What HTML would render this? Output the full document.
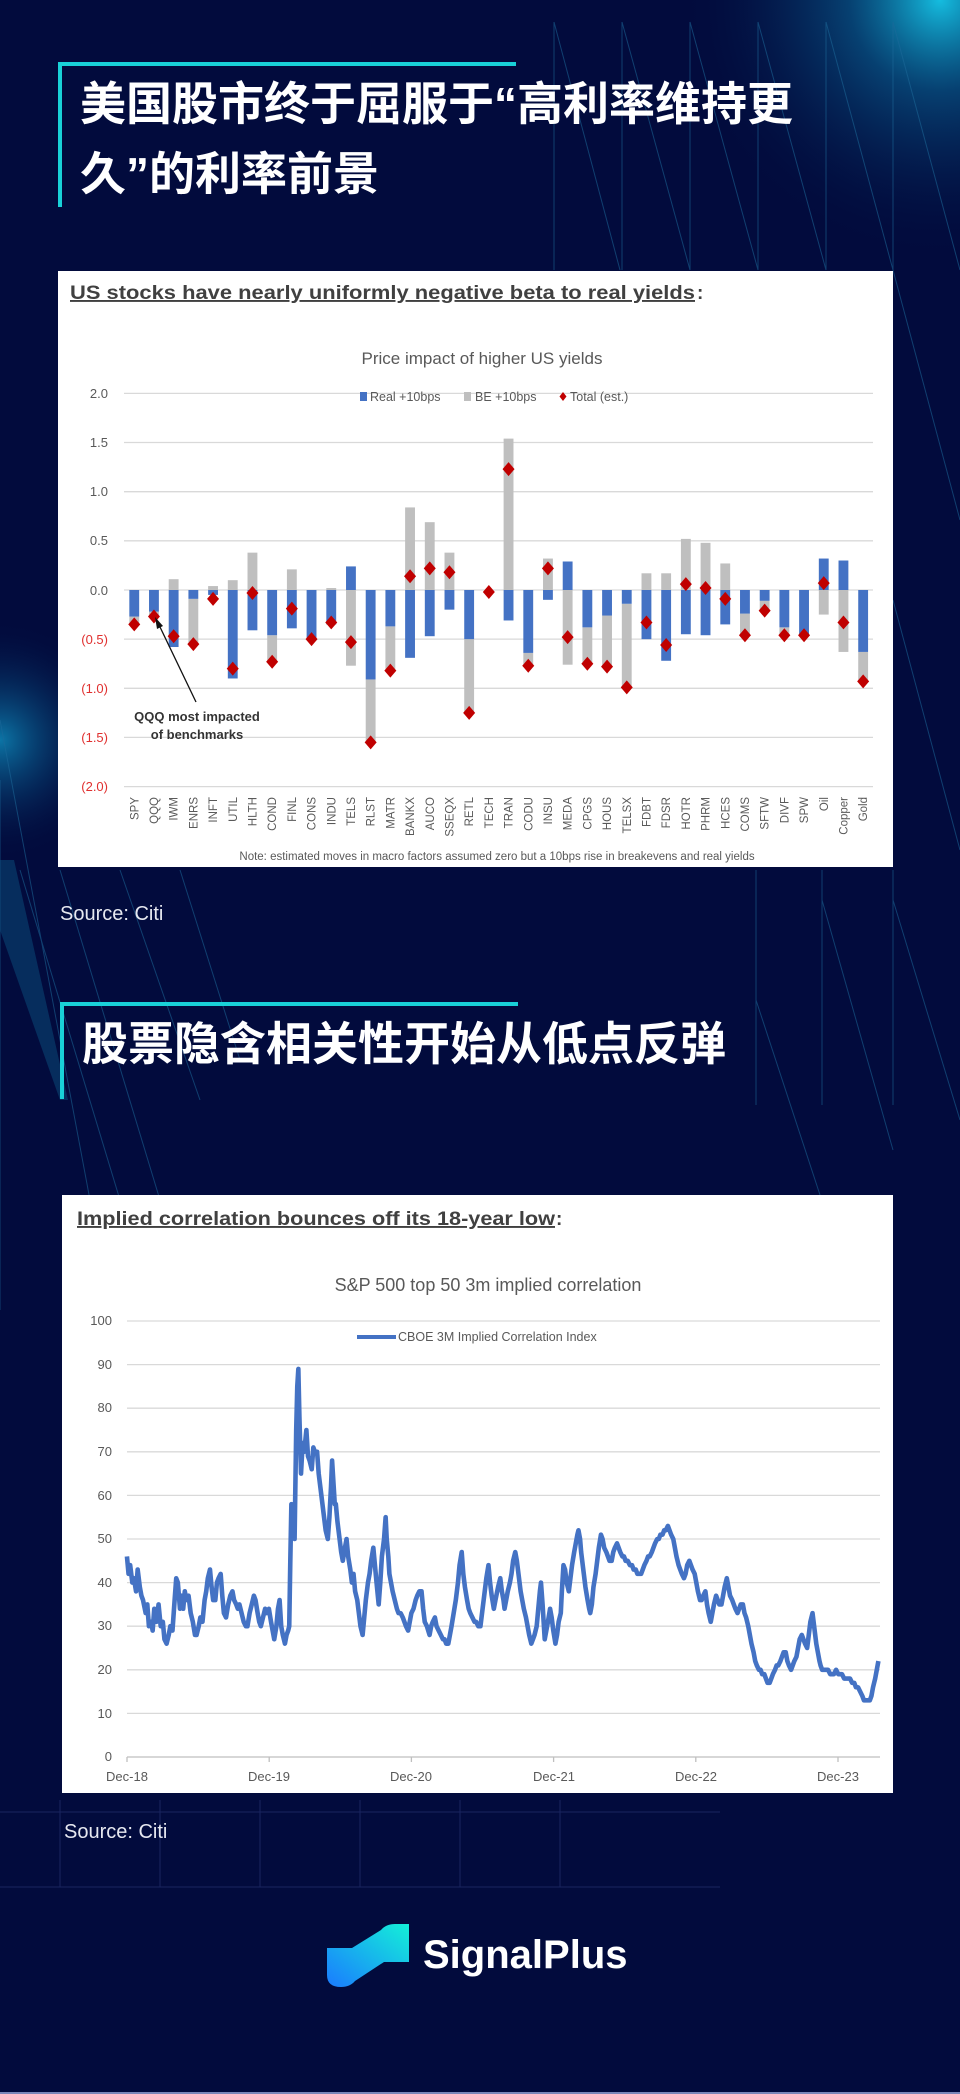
<!DOCTYPE html>
<html><head><meta charset="utf-8">
<style>
html,body{margin:0;padding:0;background:#020b3d;}
body{width:960px;height:2094px;overflow:hidden;position:relative;}
svg{position:absolute;left:0;top:0;}
</style></head>
<body>
<svg width="960" height="2094" viewBox="0 0 960 2094" xmlns="http://www.w3.org/2000/svg">
<defs>
<radialGradient id="glow" cx="940" cy="0" r="260" gradientUnits="userSpaceOnUse">
<stop offset="0" stop-color="#16c6e8" stop-opacity="0.95"/>
<stop offset="0.35" stop-color="#0a6c9c" stop-opacity="0.55"/>
<stop offset="1" stop-color="#020b3d" stop-opacity="0"/>
</radialGradient>
<radialGradient id="glow2" cx="0" cy="740" r="120" gradientUnits="userSpaceOnUse">
<stop offset="0" stop-color="#0e8fc0" stop-opacity="0.8"/>
<stop offset="1" stop-color="#020b3d" stop-opacity="0"/>
</radialGradient>
<linearGradient id="logoG" x1="0" y1="1" x2="1" y2="0">
<stop offset="0" stop-color="#1a7bff"/>
<stop offset="1" stop-color="#14f0d8"/>
</linearGradient>
<path id="dm" d="M0,-7 L6,0 0,7 -6,0Z" fill="#c00000"/>
</defs>
<rect width="960" height="2094" fill="#020b3d"/>
<rect width="960" height="2094" fill="url(#glow)"/>
<rect width="960" height="2094" fill="url(#glow2)"/>
<g stroke="#1d6a9a" stroke-width="1" opacity="0.55" fill="none">
<line x1="554" y1="22" x2="554" y2="270"/><line x1="622" y1="22" x2="622" y2="270"/><line x1="690" y1="22" x2="690" y2="270"/><line x1="758" y1="22" x2="758" y2="270"/><line x1="826" y1="22" x2="826" y2="270"/><line x1="893" y1="22" x2="893" y2="270"/>
<line x1="554" y1="22" x2="620" y2="270"/><line x1="622" y1="22" x2="690" y2="270"/><line x1="690" y1="22" x2="758" y2="270"/><line x1="758" y1="22" x2="826" y2="270"/><line x1="826" y1="22" x2="893" y2="270"/><line x1="893" y1="22" x2="960" y2="270"/>
<line x1="893" y1="270" x2="960" y2="520"/><line x1="893" y1="600" x2="960" y2="850"/>
<line x1="0" y1="720" x2="90" y2="1200"/><line x1="20" y1="870" x2="120" y2="1200"/><line x1="60" y1="870" x2="160" y2="1200"/><line x1="120" y1="870" x2="200" y2="1100"/><line x1="180" y1="870" x2="240" y2="1060"/>
<line x1="756" y1="870" x2="756" y2="1105"/><line x1="822" y1="870" x2="822" y2="1105"/><line x1="893" y1="870" x2="893" y2="1105"/>
<line x1="756" y1="1000" x2="820" y2="1195"/><line x1="822" y1="900" x2="893" y2="1150"/><line x1="893" y1="900" x2="960" y2="1120"/>
<line x1="0" y1="780" x2="0" y2="1310"/>
</g>
<polygon points="0,860 14,860 68,1100 60,1100 0,930" fill="#0a4f7e" opacity="0.5"/>
<g stroke="#1a2560" stroke-width="1">
<line x1="0" y1="1812" x2="720" y2="1812"/><line x1="0" y1="1887" x2="720" y2="1887"/>
<line x1="60" y1="1800" x2="60" y2="1887"/><line x1="160" y1="1800" x2="160" y2="1887"/><line x1="260" y1="1800" x2="260" y2="1887"/><line x1="360" y1="1800" x2="360" y2="1887"/><line x1="460" y1="1800" x2="460" y2="1887"/><line x1="560" y1="1800" x2="560" y2="1887"/>
</g>
<line x1="0" y1="2093" x2="960" y2="2093" stroke="#7a86b8" stroke-width="2"/>

<rect x="58" y="62" width="458" height="4" fill="#19d1d8"/>
<rect x="58" y="62" width="4" height="145" fill="#19d1d8"/>
<g font-family="'Liberation Sans','Noto Sans CJK SC',sans-serif" font-weight="bold" font-size="46" fill="#ffffff">
<text x="80" y="120">美国股市终于屈服于“高利率维持更</text>
<text x="80" y="190">久”的利率前景</text>
</g>

<rect x="58" y="271" width="835" height="596" fill="#ffffff"/>
<text x="70" y="299" font-family="'Liberation Sans Narrow','Liberation Sans',sans-serif" font-weight="bold" font-size="19" fill="#404040" text-decoration="underline" textLength="625" lengthAdjust="spacingAndGlyphs">US stocks have nearly uniformly negative beta to real yields</text>
<text x="697" y="299" font-family="'Liberation Sans',sans-serif" font-weight="bold" font-size="19" fill="#404040">:</text>
<text x="482" y="364" text-anchor="middle" font-family="'Liberation Sans Narrow','Liberation Sans',sans-serif" font-size="17" fill="#595959">Price impact of higher US yields</text>
<g stroke="#d9d9d9" stroke-width="1.3">
<line x1="124" y1="393.4" x2="873" y2="393.4"/><line x1="124" y1="442.5" x2="873" y2="442.5"/><line x1="124" y1="491.7" x2="873" y2="491.7"/><line x1="124" y1="540.8" x2="873" y2="540.8"/><line x1="124" y1="590" x2="873" y2="590"/><line x1="124" y1="639.1" x2="873" y2="639.1"/><line x1="124" y1="688.3" x2="873" y2="688.3"/><line x1="124" y1="737.4" x2="873" y2="737.4"/><line x1="124" y1="786.6" x2="873" y2="786.6"/>
</g>
<g font-family="'Liberation Sans Narrow','Liberation Sans',sans-serif" font-size="13" text-anchor="end">
<text x="108" y="398" fill="#595959">2.0</text><text x="108" y="447" fill="#595959">1.5</text><text x="108" y="496" fill="#595959">1.0</text><text x="108" y="545" fill="#595959">0.5</text><text x="108" y="595" fill="#595959">0.0</text>
<text x="108" y="644" fill="#e0302f">(0.5)</text><text x="108" y="693" fill="#e0302f">(1.0)</text><text x="108" y="742" fill="#e0302f">(1.5)</text><text x="108" y="791" fill="#e0302f">(2.0)</text>
</g>
<rect x="360" y="392" width="7" height="9" fill="#4472c4"/>
<text x="370" y="401" font-family="'Liberation Sans Narrow','Liberation Sans',sans-serif" font-size="12.5" fill="#595959">Real +10bps</text>
<rect x="464" y="392" width="7" height="9" fill="#bfbfbf"/>
<text x="475" y="401" font-family="'Liberation Sans Narrow','Liberation Sans',sans-serif" font-size="12.5" fill="#595959">BE +10bps</text>
<path d="M563,392 L566.5,396.5 563,401 559.5,396.5Z" fill="#c00000"/>
<text x="570" y="401" font-family="'Liberation Sans Narrow','Liberation Sans',sans-serif" font-size="12.5" fill="#595959">Total (est.)</text>

<g transform="translate(124.4,590) scale(19.7,-98.3)">
<g fill="#bfbfbf">
<rect x="0.25" y="-0.35" width="0.5" height="0.08"/>
<rect x="1.25" y="-0.27" width="0.5" height="0.05"/>
<rect x="2.25" y="0" width="0.5" height="0.11"/>
<rect x="3.25" y="-0.55" width="0.5" height="0.46"/>
<rect x="4.25" y="0" width="0.5" height="0.04"/>
<rect x="5.25" y="0" width="0.5" height="0.1"/>
<rect x="6.25" y="0" width="0.5" height="0.38"/>
<rect x="7.25" y="-0.73" width="0.5" height="0.27"/>
<rect x="8.25" y="0" width="0.5" height="0.21"/>
<rect x="10.25" y="0" width="0.5" height="0.02"/>
<rect x="11.25" y="-0.77" width="0.5" height="0.77"/>
<rect x="12.25" y="-1.55" width="0.5" height="0.64"/>
<rect x="13.25" y="-0.82" width="0.5" height="0.45"/>
<rect x="14.25" y="0" width="0.5" height="0.84"/>
<rect x="15.25" y="0" width="0.5" height="0.69"/>
<rect x="16.25" y="0" width="0.5" height="0.38"/>
<rect x="17.25" y="-1.25" width="0.5" height="0.75"/>
<rect x="19.25" y="0" width="0.5" height="1.54"/>
<rect x="20.25" y="-0.77" width="0.5" height="0.13"/>
<rect x="21.25" y="0" width="0.5" height="0.32"/>
<rect x="22.25" y="-0.76" width="0.5" height="0.76"/>
<rect x="23.25" y="-0.75" width="0.5" height="0.37"/>
<rect x="24.25" y="-0.78" width="0.5" height="0.52"/>
<rect x="25.25" y="-0.99" width="0.5" height="0.85"/>
<rect x="26.25" y="0" width="0.5" height="0.17"/>
<rect x="27.25" y="0" width="0.5" height="0.17"/>
<rect x="28.25" y="0" width="0.5" height="0.52"/>
<rect x="29.25" y="0" width="0.5" height="0.48"/>
<rect x="30.25" y="0" width="0.5" height="0.27"/>
<rect x="31.25" y="-0.46" width="0.5" height="0.22"/>
<rect x="32.25" y="-0.21" width="0.5" height="0.1"/>
<rect x="33.25" y="-0.46" width="0.5" height="0.08"/>
<rect x="35.25" y="-0.25" width="0.5" height="0.25"/>
<rect x="36.25" y="-0.63" width="0.5" height="0.63"/>
<rect x="37.25" y="-0.93" width="0.5" height="0.3"/>
</g>
<g fill="#4472c4">
<rect x="0.25" y="-0.27" width="0.5" height="0.27"/>
<rect x="1.25" y="-0.22" width="0.5" height="0.22"/>
<rect x="2.25" y="-0.58" width="0.5" height="0.58"/>
<rect x="3.25" y="-0.09" width="0.5" height="0.09"/>
<rect x="4.25" y="-0.05" width="0.5" height="0.05"/>
<rect x="5.25" y="-0.9" width="0.5" height="0.9"/>
<rect x="6.25" y="-0.41" width="0.5" height="0.41"/>
<rect x="7.25" y="-0.46" width="0.5" height="0.46"/>
<rect x="8.25" y="-0.39" width="0.5" height="0.39"/>
<rect x="9.25" y="-0.5" width="0.5" height="0.5"/>
<rect x="10.25" y="-0.35" width="0.5" height="0.35"/>
<rect x="11.25" y="0" width="0.5" height="0.24"/>
<rect x="12.25" y="-0.91" width="0.5" height="0.91"/>
<rect x="13.25" y="-0.37" width="0.5" height="0.37"/>
<rect x="14.25" y="-0.69" width="0.5" height="0.69"/>
<rect x="15.25" y="-0.47" width="0.5" height="0.47"/>
<rect x="16.25" y="-0.2" width="0.5" height="0.2"/>
<rect x="17.25" y="-0.5" width="0.5" height="0.5"/>
<rect x="19.25" y="-0.31" width="0.5" height="0.31"/>
<rect x="20.25" y="-0.64" width="0.5" height="0.64"/>
<rect x="21.25" y="-0.1" width="0.5" height="0.1"/>
<rect x="22.25" y="0" width="0.5" height="0.29"/>
<rect x="23.25" y="-0.38" width="0.5" height="0.38"/>
<rect x="24.25" y="-0.26" width="0.5" height="0.26"/>
<rect x="25.25" y="-0.14" width="0.5" height="0.14"/>
<rect x="26.25" y="-0.5" width="0.5" height="0.5"/>
<rect x="27.25" y="-0.72" width="0.5" height="0.72"/>
<rect x="28.25" y="-0.45" width="0.5" height="0.45"/>
<rect x="29.25" y="-0.46" width="0.5" height="0.46"/>
<rect x="30.25" y="-0.35" width="0.5" height="0.35"/>
<rect x="31.25" y="-0.24" width="0.5" height="0.24"/>
<rect x="32.25" y="-0.11" width="0.5" height="0.11"/>
<rect x="33.25" y="-0.38" width="0.5" height="0.38"/>
<rect x="34.25" y="-0.46" width="0.5" height="0.46"/>
<rect x="35.25" y="0" width="0.5" height="0.32"/>
<rect x="36.25" y="0" width="0.5" height="0.3"/>
<rect x="37.25" y="-0.63" width="0.5" height="0.63"/>
</g>
<g>
<use href="#dm" transform="translate(0.5,-0.35) scale(0.0508,-0.01017)"/>
<use href="#dm" transform="translate(1.5,-0.27) scale(0.0508,-0.01017)"/>
<use href="#dm" transform="translate(2.5,-0.47) scale(0.0508,-0.01017)"/>
<use href="#dm" transform="translate(3.5,-0.55) scale(0.0508,-0.01017)"/>
<use href="#dm" transform="translate(4.5,-0.09) scale(0.0508,-0.01017)"/>
<use href="#dm" transform="translate(5.5,-0.8) scale(0.0508,-0.01017)"/>
<use href="#dm" transform="translate(6.5,-0.03) scale(0.0508,-0.01017)"/>
<use href="#dm" transform="translate(7.5,-0.73) scale(0.0508,-0.01017)"/>
<use href="#dm" transform="translate(8.5,-0.19) scale(0.0508,-0.01017)"/>
<use href="#dm" transform="translate(9.5,-0.5) scale(0.0508,-0.01017)"/>
<use href="#dm" transform="translate(10.5,-0.33) scale(0.0508,-0.01017)"/>
<use href="#dm" transform="translate(11.5,-0.53) scale(0.0508,-0.01017)"/>
<use href="#dm" transform="translate(12.5,-1.55) scale(0.0508,-0.01017)"/>
<use href="#dm" transform="translate(13.5,-0.82) scale(0.0508,-0.01017)"/>
<use href="#dm" transform="translate(14.5,0.14) scale(0.0508,-0.01017)"/>
<use href="#dm" transform="translate(15.5,0.22) scale(0.0508,-0.01017)"/>
<use href="#dm" transform="translate(16.5,0.18) scale(0.0508,-0.01017)"/>
<use href="#dm" transform="translate(17.5,-1.25) scale(0.0508,-0.01017)"/>
<use href="#dm" transform="translate(18.5,-0.02) scale(0.0508,-0.01017)"/>
<use href="#dm" transform="translate(19.5,1.23) scale(0.0508,-0.01017)"/>
<use href="#dm" transform="translate(20.5,-0.77) scale(0.0508,-0.01017)"/>
<use href="#dm" transform="translate(21.5,0.22) scale(0.0508,-0.01017)"/>
<use href="#dm" transform="translate(22.5,-0.48) scale(0.0508,-0.01017)"/>
<use href="#dm" transform="translate(23.5,-0.75) scale(0.0508,-0.01017)"/>
<use href="#dm" transform="translate(24.5,-0.78) scale(0.0508,-0.01017)"/>
<use href="#dm" transform="translate(25.5,-0.99) scale(0.0508,-0.01017)"/>
<use href="#dm" transform="translate(26.5,-0.33) scale(0.0508,-0.01017)"/>
<use href="#dm" transform="translate(27.5,-0.56) scale(0.0508,-0.01017)"/>
<use href="#dm" transform="translate(28.5,0.06) scale(0.0508,-0.01017)"/>
<use href="#dm" transform="translate(29.5,0.02) scale(0.0508,-0.01017)"/>
<use href="#dm" transform="translate(30.5,-0.09) scale(0.0508,-0.01017)"/>
<use href="#dm" transform="translate(31.5,-0.46) scale(0.0508,-0.01017)"/>
<use href="#dm" transform="translate(32.5,-0.21) scale(0.0508,-0.01017)"/>
<use href="#dm" transform="translate(33.5,-0.46) scale(0.0508,-0.01017)"/>
<use href="#dm" transform="translate(34.5,-0.46) scale(0.0508,-0.01017)"/>
<use href="#dm" transform="translate(35.5,0.07) scale(0.0508,-0.01017)"/>
<use href="#dm" transform="translate(36.5,-0.33) scale(0.0508,-0.01017)"/>
<use href="#dm" transform="translate(37.5,-0.93) scale(0.0508,-0.01017)"/>
</g>
</g>
<g font-family="'Liberation Sans',sans-serif" font-size="11.5" fill="#595959" text-anchor="end">
<text transform="translate(138.3,797) rotate(-90)">SPY</text>
<text transform="translate(158,797) rotate(-90)">QQQ</text>
<text transform="translate(177.7,797) rotate(-90)">IWM</text>
<text transform="translate(197.4,797) rotate(-90)">ENRS</text>
<text transform="translate(217.1,797) rotate(-90)">INFT</text>
<text transform="translate(236.8,797) rotate(-90)">UTIL</text>
<text transform="translate(256.5,797) rotate(-90)">HLTH</text>
<text transform="translate(276.2,797) rotate(-90)">COND</text>
<text transform="translate(295.9,797) rotate(-90)">FINL</text>
<text transform="translate(315.6,797) rotate(-90)">CONS</text>
<text transform="translate(335.3,797) rotate(-90)">INDU</text>
<text transform="translate(355,797) rotate(-90)">TELS</text>
<text transform="translate(374.7,797) rotate(-90)">RLST</text>
<text transform="translate(394.4,797) rotate(-90)">MATR</text>
<text transform="translate(414.1,797) rotate(-90)">BANKX</text>
<text transform="translate(433.8,797) rotate(-90)">AUCO</text>
<text transform="translate(453.5,797) rotate(-90)">SSEQX</text>
<text transform="translate(473.2,797) rotate(-90)">RETL</text>
<text transform="translate(492.9,797) rotate(-90)">TECH</text>
<text transform="translate(512.6,797) rotate(-90)">TRAN</text>
<text transform="translate(532.3,797) rotate(-90)">CODU</text>
<text transform="translate(552,797) rotate(-90)">INSU</text>
<text transform="translate(571.7,797) rotate(-90)">MEDA</text>
<text transform="translate(591.4,797) rotate(-90)">CPGS</text>
<text transform="translate(611.1,797) rotate(-90)">HOUS</text>
<text transform="translate(630.8,797) rotate(-90)">TELSX</text>
<text transform="translate(650.5,797) rotate(-90)">FDBT</text>
<text transform="translate(670.2,797) rotate(-90)">FDSR</text>
<text transform="translate(689.9,797) rotate(-90)">HOTR</text>
<text transform="translate(709.6,797) rotate(-90)">PHRM</text>
<text transform="translate(729.3,797) rotate(-90)">HCES</text>
<text transform="translate(749,797) rotate(-90)">COMS</text>
<text transform="translate(768.7,797) rotate(-90)">SFTW</text>
<text transform="translate(788.4,797) rotate(-90)">DIVF</text>
<text transform="translate(808.1,797) rotate(-90)">SPW</text>
<text transform="translate(827.8,797) rotate(-90)">Oil</text>
<text transform="translate(847.5,797) rotate(-90)">Copper</text>
<text transform="translate(867.2,797) rotate(-90)">Gold</text>
</g>
<line x1="196" y1="702" x2="160" y2="627" stroke="#111" stroke-width="1.3"/>
<path d="M155,617 L163,626 157,629Z" fill="#111"/>
<g font-family="'Liberation Sans Narrow','Liberation Sans',sans-serif" font-size="13" font-weight="bold" fill="#333" text-anchor="middle">
<text x="197" y="721">QQQ most impacted</text>
<text x="197" y="739">of benchmarks</text>
</g>
<text x="497" y="860" text-anchor="middle" font-family="'Liberation Sans Narrow','Liberation Sans',sans-serif" font-size="11.5" fill="#595959">Note: estimated moves in macro factors assumed zero but a 10bps rise in breakevens and real yields</text>

<text x="60" y="920" font-family="'Liberation Sans',sans-serif" font-size="20" fill="#e6e8f0">Source: Citi</text>

<rect x="60" y="1002" width="458" height="4" fill="#19d1d8"/>
<rect x="60" y="1002" width="4" height="97" fill="#19d1d8"/>
<text x="82" y="1060" font-family="'Liberation Sans','Noto Sans CJK SC',sans-serif" font-weight="bold" font-size="46" fill="#ffffff">股票隐含相关性开始从低点反弹</text>

<rect x="62" y="1195" width="831" height="598" fill="#ffffff"/>
<text x="77" y="1225" font-family="'Liberation Sans Narrow','Liberation Sans',sans-serif" font-weight="bold" font-size="19" fill="#404040" text-decoration="underline" textLength="478" lengthAdjust="spacingAndGlyphs">Implied correlation bounces off its 18-year low</text>
<text x="556" y="1225" font-family="'Liberation Sans',sans-serif" font-weight="bold" font-size="19" fill="#404040">:</text>
<text x="488" y="1291" text-anchor="middle" font-family="'Liberation Sans Narrow','Liberation Sans',sans-serif" font-size="18" fill="#595959">S&amp;P 500 top 50 3m implied correlation</text>
<g stroke="#d9d9d9" stroke-width="1.3">
<line x1="127" y1="1321" x2="880" y2="1321"/><line x1="127" y1="1364.6" x2="880" y2="1364.6"/><line x1="127" y1="1408.2" x2="880" y2="1408.2"/><line x1="127" y1="1451.8" x2="880" y2="1451.8"/><line x1="127" y1="1495.4" x2="880" y2="1495.4"/><line x1="127" y1="1539" x2="880" y2="1539"/><line x1="127" y1="1582.6" x2="880" y2="1582.6"/><line x1="127" y1="1626.2" x2="880" y2="1626.2"/><line x1="127" y1="1669.8" x2="880" y2="1669.8"/><line x1="127" y1="1713.4" x2="880" y2="1713.4"/>
</g>
<line x1="127" y1="1757" x2="880" y2="1757" stroke="#bfbfbf" stroke-width="1.3"/>
<g stroke="#bfbfbf" stroke-width="1.3">
<line x1="127" y1="1757" x2="127" y2="1762"/><line x1="269.2" y1="1757" x2="269.2" y2="1762"/><line x1="411.4" y1="1757" x2="411.4" y2="1762"/><line x1="553.6" y1="1757" x2="553.6" y2="1762"/><line x1="695.8" y1="1757" x2="695.8" y2="1762"/><line x1="838" y1="1757" x2="838" y2="1762"/>
</g>
<g font-family="'Liberation Sans Narrow','Liberation Sans',sans-serif" font-size="13" fill="#595959" text-anchor="end">
<text x="112" y="1325">100</text><text x="112" y="1369">90</text><text x="112" y="1412">80</text><text x="112" y="1456">70</text><text x="112" y="1500">60</text><text x="112" y="1543">50</text><text x="112" y="1587">40</text><text x="112" y="1630">30</text><text x="112" y="1674">20</text><text x="112" y="1718">10</text><text x="112" y="1761">0</text>
</g>
<g font-family="'Liberation Sans Narrow','Liberation Sans',sans-serif" font-size="13" fill="#595959" text-anchor="middle">
<text x="127" y="1781">Dec-18</text><text x="269" y="1781">Dec-19</text><text x="411" y="1781">Dec-20</text><text x="554" y="1781">Dec-21</text><text x="696" y="1781">Dec-22</text><text x="838" y="1781">Dec-23</text>
</g>
<line x1="357" y1="1337" x2="396" y2="1337" stroke="#4472c4" stroke-width="4"/>
<text x="398" y="1341" font-family="'Liberation Sans Narrow','Liberation Sans',sans-serif" font-size="12.5" fill="#595959">CBOE 3M Implied Correlation Index</text>
<g transform="translate(60,1757) scale(0.5356,-4.36)">
<polyline vector-effect="non-scaling-stroke" fill="none" stroke="#4472c4" stroke-width="4.6" stroke-linejoin="round" points="125,46 128,42 131,44 135,40 138,41 142,38 145,43 149,39 152,37 155,36 160,33 163,35 166,30 170,31 173,29 176,34 180,31 184,35 188,30 192,31 195,27 199,26 203,28 206,30 210,29 214,36 217,41 220,40 224,34 227,37 230,34 233,38 236,36 240,37 244,33 248,31 252,28 255,28 259,30 262,32 266,31 270,36 273,38 276,41 280,43 283,39 286,36 290,36 293,40 296,41 300,42 303,37 306,33 310,32 314,35 318,37 322,38 325,36 329,35 332,34 335,35 339,33 343,31 347,30 350,30 354,33 358,35 362,37 365,36 369,33 372,31 375,30 379,32 383,34 386,33 390,34 394,31 397,29 400,27 404,30 407,34 410,36 413,30 416,28 420,26 423,28 426,29 428,30 430,45 432,58 435,54 438,50 441,75 443,85 445,89 447,78 450,65 453,72 456,70 460,75 463,69 466,68 470,66 473,71 476,70 480,70 483,65 486,62 490,58 493,55 496,52 500,50 503,55 506,62 508,68 511,62 513,58 515,58 518,54 522,50 525,47 528,45 532,48 535,50 538,46 542,43 545,40 548,42 551,38 555,36 558,33 561,30 565,28 568,32 571,36 575,40 578,42 581,45 585,48 588,44 591,40 595,35 598,40 601,46 605,50 608,55 610,50 613,46 615,42 618,40 621,38 625,36 629,34 632,33 636,33 640,32 643,31 646,30 650,29 653,31 656,33 660,34 664,36 667,37 671,38 675,38 678,34 681,31 685,30 690,28 693,30 696,31 700,32 703,30 707,29 711,28 715,27 718,27 721,26 725,26 728,28 731,30 735,33 739,36 743,40 746,44 750,47 753,42 756,39 760,36 763,34 766,33 770,32 774,31 777,31 781,30 785,30 789,34 793,38 796,41 800,44 803,40 806,37 810,34 813,36 818,39 822,41 825,38 828,36 830,34 833,36 836,38 840,40 843,42 846,45 850,47 853,45 856,42 860,38 863,36 866,34 870,32 873,30 876,28 880,26 883,27 886,28 890,30 893,34 896,38 898,40 901,35 903,31 905,27 908,29 911,31 915,34 918,32 921,29 925,26 928,28 931,31 935,33 937,38 940,44 943,43 946,40 950,38 953,41 956,44 960,47 963,49 966,51 968,52 971,50 973,47 975,45 978,42 981,39 985,36 988,34 990,33 993,35 996,39 1000,42 1003,45 1006,48 1010,51 1013,50 1016,48 1020,47 1023,46 1026,45 1030,45 1033,47 1036,48 1040,49 1043,48 1046,47 1050,46 1053,46 1056,45 1060,45 1064,44 1068,44 1071,43 1075,43 1078,42 1081,42 1085,42 1088,43 1091,44 1095,45 1098,46 1101,46 1105,47 1108,48 1111,49 1115,50 1118,50 1121,51 1125,51 1128,52 1131,52 1135,53 1138,52 1141,51 1145,50 1148,48 1151,46 1155,44 1158,43 1161,42 1165,41 1168,42 1171,44 1175,45 1178,44 1181,43 1185,42 1188,40 1191,38 1195,36 1198,36 1201,37 1205,38 1208,35 1211,33 1215,31 1218,33 1221,35 1225,37 1228,36 1231,35 1235,35 1238,37 1241,39 1245,41 1248,39 1251,37 1255,36 1258,35 1261,34 1265,33 1268,34 1271,35 1275,35 1278,33 1281,32 1285,30 1288,28 1291,26 1295,24 1298,22 1301,21 1305,20 1308,20 1311,19 1315,19 1318,18 1321,17 1325,17 1328,18 1331,19 1335,20 1338,21 1341,21 1345,22 1348,23 1351,24 1355,24 1358,22 1361,21 1365,20 1368,21 1371,22 1375,23 1378,25 1381,27 1385,28 1388,27 1391,26 1395,25 1398,28 1401,31 1405,33 1408,30 1410,28 1412,26 1415,24 1418,22 1420,21 1423,20 1426,20 1430,20 1434,20 1438,19 1441,19 1445,19 1449,20 1453,19 1456,19 1460,19 1464,18 1468,18 1471,18 1475,18 1479,17 1483,17 1486,16 1490,16 1494,15 1498,14 1501,13 1505,13 1508,13 1512,13 1515,14 1518,16 1520,17 1522,18 1525,20 1528,22"/>
</g>

<text x="64" y="1838" font-family="'Liberation Sans',sans-serif" font-size="20" fill="#e6e8f0">Source: Citi</text>

<path d="M327,1948 L352,1948 L381,1930 Q386,1924 395,1924 L409,1924 L409,1962 L384,1962 L355,1981 Q350,1987 341,1987 Q327,1987 327,1975Z" fill="url(#logoG)"/>
<text x="423" y="1968" font-family="'Liberation Sans',sans-serif" font-weight="bold" font-size="40" fill="#ffffff">SignalPlus</text>
</svg>
</body></html>
